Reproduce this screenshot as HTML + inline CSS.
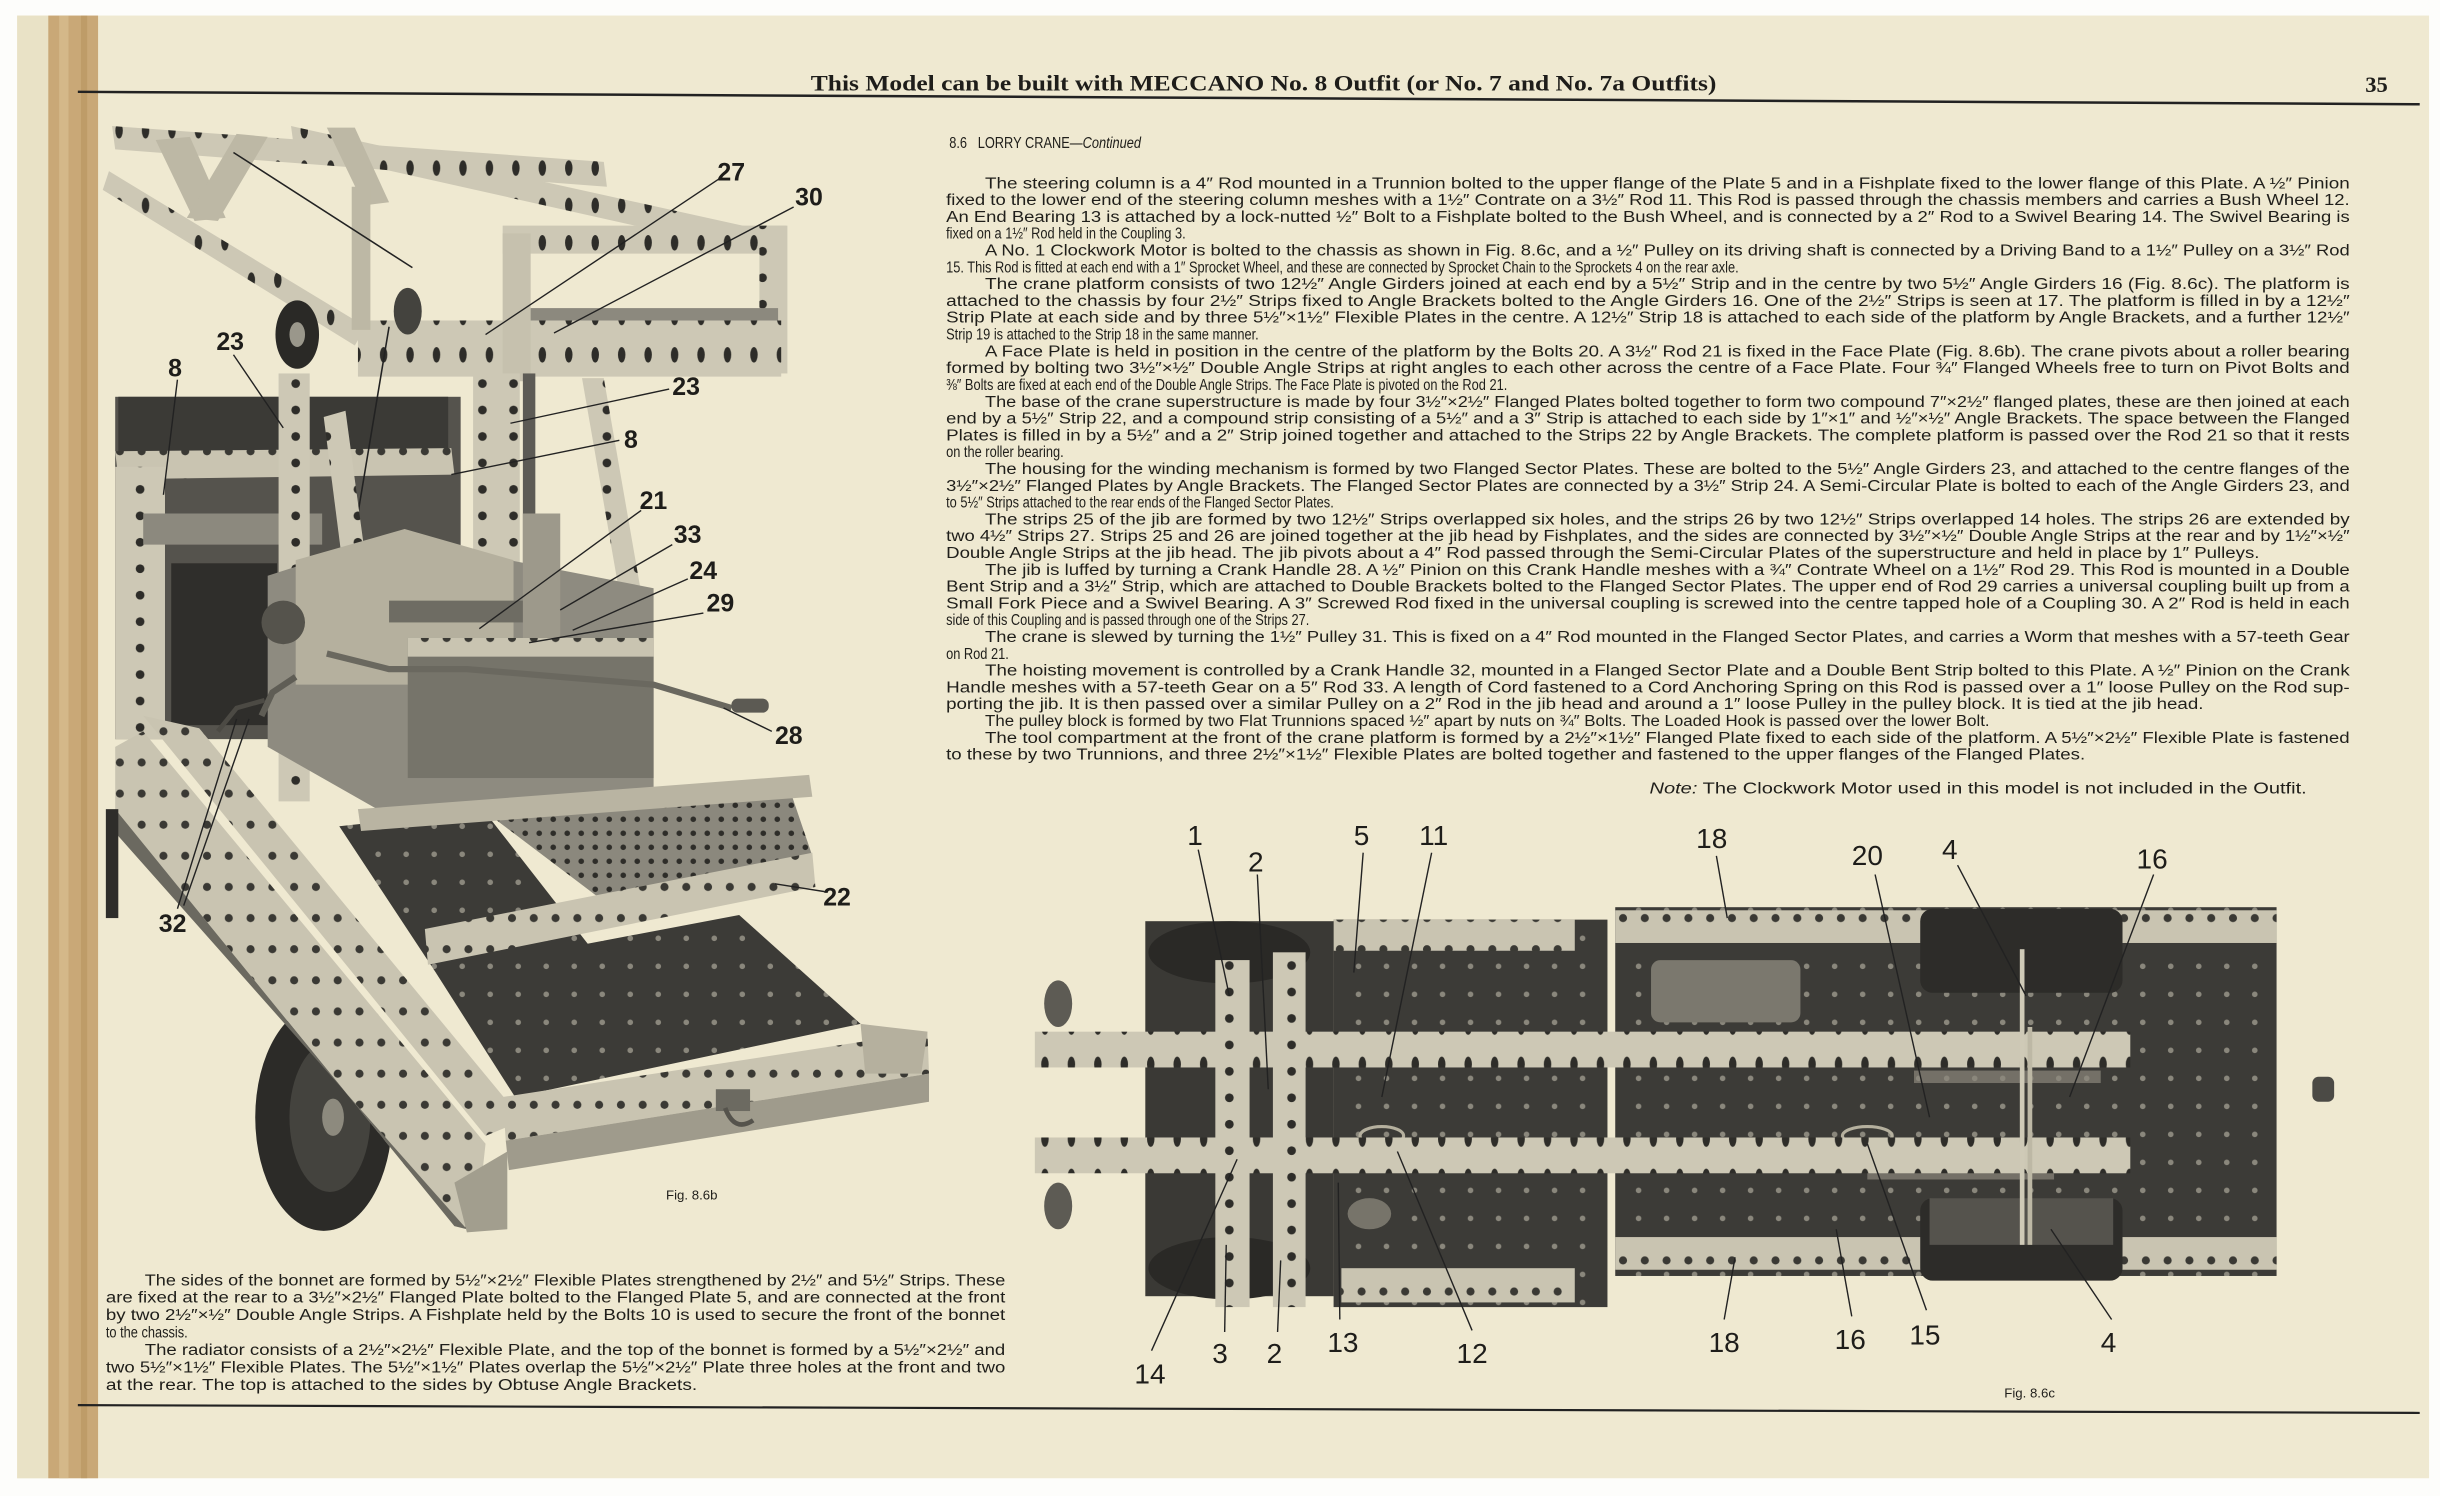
<!DOCTYPE html>
<html><head><meta charset="utf-8"><style>
html,body{margin:0;padding:0;background:#fff;}
svg{display:block}
.p{font-family:"Liberation Sans",sans-serif;font-size:10.3px;fill:#1f1e1a}
.h{font-family:"Liberation Serif",serif;font-weight:bold;font-size:14.5px;fill:#1e1d1a}
.lb{font-family:"Liberation Sans",sans-serif;font-weight:bold;font-size:16px;fill:#1e1d1a}
.ln{font-family:"Liberation Sans",sans-serif;font-size:18px;fill:#1e1d1a}
.ld{stroke:#222;stroke-width:0.9;fill:none}
</style></head><body>
<svg width="2440" height="1496" viewBox="0 0 1568 961.4" xmlns="http://www.w3.org/2000/svg">
<defs>
<pattern id="hh" width="17" height="24" patternUnits="userSpaceOnUse"><rect width="17" height="24" fill="#cdc8b5"/><ellipse cx="8.5" cy="12" rx="2.4" ry="5" fill="#2e2d29"/></pattern>
<pattern id="hs" width="14" height="20" patternUnits="userSpaceOnUse"><rect width="14" height="20" fill="#c9c4b1"/><circle cx="7" cy="10" r="2.6" fill="#3a3934"/></pattern>
<pattern id="vh" width="20" height="17" patternUnits="userSpaceOnUse"><rect width="20" height="17" fill="#cdc8b5"/><circle cx="10" cy="8.5" r="2.8" fill="#2e2d29"/></pattern>
<pattern id="dk" width="18" height="18" patternUnits="userSpaceOnUse"><rect width="18" height="18" fill="#3c3b37"/><circle cx="9" cy="9" r="1.8" fill="#8a877c"/></pattern>
<pattern id="gd" width="9" height="9" patternUnits="userSpaceOnUse"><rect width="9" height="9" fill="#8b887d"/><circle cx="4.5" cy="4.5" r="1.8" fill="#2e2d29"/></pattern>
</defs>
<rect x="0" y="0" width="1568" height="961.4" fill="#fdfdfb"/>
<rect x="11" y="10" width="1550" height="940" fill="#efe9d1"/>
<rect x="11" y="10" width="20" height="940" fill="#e9e2c6"/>
<rect x="31" y="10" width="32" height="940" fill="#c9a877"/>
<rect x="38" y="10" width="6" height="940" fill="#d8bf91" opacity="0.7"/>
<rect x="52" y="10" width="4" height="940" fill="#b8955f" opacity="0.6"/>
<line x1="50" y1="59" x2="1555" y2="67" stroke="#222" stroke-width="1.6"/>
<line x1="50" y1="903" x2="1555" y2="908" stroke="#222" stroke-width="1.4"/>
<text class="h" x="521" y="58" textLength="582" lengthAdjust="spacingAndGlyphs">This Model can be built with MECCANO No. 8 Outfit (or No. 7 and No. 7a Outfits)</text>
<text class="h" x="1520" y="59">35</text>

<g>
<rect x="74" y="255" width="222" height="220" fill="#55534d"/>
<rect x="76" y="255" width="212" height="36" fill="#3b3a36"/>
<polygon points="74,290 290,288 292,305 76,308" fill="url(#hs)"/>
<rect x="110" y="362" width="68" height="104" fill="#2f2e2b"/>
<rect x="74" y="300" width="32" height="175" fill="url(#vh)"/>
<rect x="92" y="330" width="115" height="20" fill="#8c897e"/>
<polygon points="72,81 388,104 390,120 74,96" fill="url(#hh)"/>
<polygon points="187,81 500,150 502,166 189,96" fill="url(#hh)"/>
<polygon points="70,110 235,210 228,222 66,122" fill="url(#hh)"/>
<polygon points="100,90 122,88 145,140 125,142" fill="#bdb8a5"/>
<polygon points="120,140 140,142 172,88 152,86" fill="#bdb8a5"/>
<polygon points="210,82 228,82 250,130 234,132" fill="#bdb8a5"/>
<rect x="323" y="145" width="182" height="18" fill="url(#hh)"/>
<rect x="488" y="145" width="18" height="95" fill="url(#vh)"/>
<rect x="330" y="198" width="170" height="8" fill="#8c897e"/>
<polygon points="230,206 502,206 502,242 230,242" fill="url(#hh)"/>
<rect x="226" y="120" width="12" height="92" fill="#bdb8a5"/>
<rect x="323" y="150" width="18" height="95" fill="#c6c1ae"/>
<line x1="150" y1="98" x2="265" y2="172" stroke="#222" stroke-width="1"/>
<line x1="250" y1="210" x2="230" y2="330" stroke="#222" stroke-width="1"/>
<rect x="304" y="240" width="30" height="128" fill="url(#vh)"/>
<polygon points="374,243 388,243 416,404 402,404" fill="url(#vh)"/>
<rect x="336" y="240" width="8" height="130" fill="#5d5b55"/>
<ellipse cx="191" cy="215" rx="14" ry="22" fill="#2a2926"/>
<ellipse cx="191" cy="215" rx="5" ry="8" fill="#9a978b"/>
<ellipse cx="262" cy="200" rx="9" ry="15" fill="#44433e"/>
<rect x="179" y="240" width="20" height="275" fill="url(#vh)"/>
<polygon points="208,268 222,264 256,515 240,518" fill="url(#vh)"/>
<polygon points="172,370 250,345 420,378 420,515 260,530 172,480" fill="#8e8b80"/>
<polygon points="190,360 260,340 330,360 330,440 190,440" fill="#b5b09e"/>
<rect x="250" y="386" width="90" height="14" fill="#6e6c63"/>
<rect x="262" y="410" width="158" height="90" fill="#76746a"/>
<rect x="262" y="410" width="158" height="12" fill="url(#hs)"/>
<rect x="336" y="330" width="24" height="80" fill="#9d998b"/>
<circle cx="182" cy="400" r="14" fill="#55534c"/>
<polyline points="210,420 250,430 300,430 420,440 470,455" stroke="#6a685f" stroke-width="4" fill="none"/>
<rect x="470" y="449" width="24" height="9" rx="4" fill="#5c5a53"/>
<polyline points="190,435 175,445 168,460" stroke="#5f5d55" stroke-width="4" fill="none"/>
<polygon points="218,531 311,521 389,621 280,625" fill="url(#dk)"/>
<polygon points="311,521 505,500 522,550 389,580" fill="url(#gd)"/>
<polygon points="280,625 475,588 553,658 331,705" fill="url(#dk)"/>
<polygon points="273,597 522,548 524,570 275,620" fill="url(#hs)"/>
<polygon points="230,520 520,498 522,512 232,534" fill="#b9b4a2"/>
<polygon points="323,705 596,663 597,690 325,733" fill="url(#hs)"/>
<polygon points="325,733 597,690 597,708 327,752" fill="#9f9b8c"/>
<polygon points="553,658 596,663 592,690 556,690" fill="#b5b09e"/>
<ellipse cx="208" cy="718" rx="44" ry="73" fill="#2c2b28"/>
<ellipse cx="212" cy="718" rx="26" ry="48" fill="#44433e"/>
<ellipse cx="214" cy="718" rx="7" ry="12" fill="#8d8a7e"/>
<polygon points="92,460 128,468 336,720 312,730" fill="url(#hs)"/>
<polygon points="74,480 92,470 312,735 306,790 292,788 74,520" fill="url(#hs)"/>
<polygon points="74,520 292,788 300,790 74,535" fill="#6b6960"/>
<rect x="68" y="520" width="8" height="70" fill="#2e2d2a"/>
<polygon points="292,760 326,740 326,790 300,792" fill="#a29e8e"/>
<rect x="460" y="700" width="22" height="14" fill="#6c6a61"/>
<path d="M466 712 q6 16 18 8" stroke="#55534c" stroke-width="3" fill="none"/>
<polyline points="140,470 152,455 170,450" stroke="#4c4a44" stroke-width="3" fill="none"/>
</g>
<g>
<line class="ld" x1="462" y1="115" x2="312" y2="215"/>
<line class="ld" x1="510" y1="133" x2="356" y2="214"/>
<line class="ld" x1="150" y1="228" x2="182" y2="275"/>
<line class="ld" x1="114" y1="244" x2="105" y2="318"/>
<line class="ld" x1="430" y1="250" x2="328" y2="272"/>
<line class="ld" x1="398" y1="283" x2="290" y2="305"/>
<line class="ld" x1="412" y1="328" x2="308" y2="404"/>
<line class="ld" x1="432" y1="350" x2="360" y2="392"/>
<line class="ld" x1="442" y1="372" x2="368" y2="405"/>
<line class="ld" x1="452" y1="394" x2="340" y2="413"/>
<line class="ld" x1="496" y1="470" x2="465" y2="455"/>
<line class="ld" x1="530" y1="573" x2="498" y2="568"/>
<line class="ld" x1="118" y1="582" x2="160" y2="462"/>
<line class="ld" x1="114" y1="584" x2="152" y2="462"/>
<text class="lb" x="461" y="116">27</text>
<text class="lb" x="511" y="132">30</text>
<text class="lb" x="139" y="225">23</text>
<text class="lb" x="108" y="242">8</text>
<text class="lb" x="432" y="254">23</text>
<text class="lb" x="401" y="288">8</text>
<text class="lb" x="411" y="327">21</text>
<text class="lb" x="433" y="349">33</text>
<text class="lb" x="443" y="372">24</text>
<text class="lb" x="454" y="393">29</text>
<text class="lb" x="498" y="478">28</text>
<text class="lb" x="529" y="582">22</text>
<text class="lb" x="102" y="599">32</text>
<text class="p" x="428" y="771" style="font-size:8.5px">Fig. 8.6b</text>
</g>

<g>
<rect x="1038" y="583" width="425" height="237" fill="url(#dk)"/>
<rect x="1038" y="585" width="425" height="21" fill="url(#hs)"/>
<rect x="1038" y="795" width="425" height="21" fill="url(#hs)"/>
<rect x="1061" y="617" width="96" height="40" rx="6" fill="#7b786e"/>
<rect x="857" y="591" width="176" height="249" fill="url(#dk)"/>
<rect x="857" y="591" width="155" height="20" fill="url(#hs)"/>
<rect x="862" y="815" width="150" height="22" fill="url(#hs)"/>
<rect x="736" y="592" width="121" height="241" fill="#3a3935"/>
<ellipse cx="790" cy="612" rx="52" ry="20" fill="#2a2926"/>
<ellipse cx="790" cy="815" rx="52" ry="20" fill="#2a2926"/>
<rect x="1234" y="584" width="130" height="54" rx="8" fill="#2d2c29"/>
<rect x="1234" y="770" width="130" height="53" rx="8" fill="#2d2c29"/>
<rect x="1240" y="770" width="118" height="30" fill="#55534d"/>
<rect x="1230" y="688" width="120" height="8" fill="#8b887c" opacity="0.7"/>
<rect x="1200" y="750" width="120" height="8" fill="#8b887c" opacity="0.7"/>
<ellipse cx="1200" cy="730" rx="16" ry="6" fill="none" stroke="#b5b09e" stroke-width="2"/>
<ellipse cx="888" cy="730" rx="14" ry="6" fill="none" stroke="#b5b09e" stroke-width="2"/>
<ellipse cx="880" cy="780" rx="14" ry="10" fill="#77746a"/>
<rect x="665" y="663" width="704" height="23" fill="url(#hh)"/>
<rect x="665" y="731" width="704" height="23" fill="url(#hh)"/>
<rect x="781" y="617" width="22" height="223" fill="url(#vh)"/>
<rect x="818" y="612" width="21" height="228" fill="url(#vh)"/>
<ellipse cx="680" cy="645" rx="9" ry="15" fill="#5d5b54"/>
<ellipse cx="680" cy="775" rx="9" ry="15" fill="#5d5b54"/>
<rect x="1486" y="692" width="14" height="16" rx="4" fill="#4b4a45"/>
<rect x="1298" y="610" width="3" height="190" fill="#cfcab7"/>
<rect x="1303" y="660" width="3" height="140" fill="#bdb8a5"/>
</g>
<g>
<line class="ld" x1="770" y1="546" x2="790" y2="640"/>
<line class="ld" x1="808" y1="562" x2="815" y2="700"/>
<line class="ld" x1="876" y1="548" x2="870" y2="625"/>
<line class="ld" x1="920" y1="548" x2="888" y2="705"/>
<line class="ld" x1="1103" y1="550" x2="1110" y2="590"/>
<line class="ld" x1="1205" y1="562" x2="1240" y2="718"/>
<line class="ld" x1="1258" y1="556" x2="1302" y2="640"/>
<line class="ld" x1="1384" y1="562" x2="1330" y2="705"/>
<line class="ld" x1="740" y1="868" x2="795" y2="745"/>
<line class="ld" x1="787" y1="856" x2="788" y2="800"/>
<line class="ld" x1="821" y1="856" x2="823" y2="810"/>
<line class="ld" x1="861" y1="848" x2="860" y2="760"/>
<line class="ld" x1="946" y1="855" x2="898" y2="740"/>
<line class="ld" x1="1108" y1="848" x2="1115" y2="808"/>
<line class="ld" x1="1190" y1="846" x2="1180" y2="790"/>
<line class="ld" x1="1238" y1="842" x2="1200" y2="735"/>
<line class="ld" x1="1357" y1="848" x2="1318" y2="790"/>
<text class="ln" x="763" y="543">1</text>
<text class="ln" x="802" y="560">2</text>
<text class="ln" x="870" y="543">5</text>
<text class="ln" x="912" y="543">11</text>
<text class="ln" x="1090" y="545">18</text>
<text class="ln" x="1190" y="556">20</text>
<text class="ln" x="1248" y="552">4</text>
<text class="ln" x="1373" y="558">16</text>
<text class="ln" x="729" y="889">14</text>
<text class="ln" x="779" y="876">3</text>
<text class="ln" x="814" y="876">2</text>
<text class="ln" x="853" y="869">13</text>
<text class="ln" x="936" y="876">12</text>
<text class="ln" x="1098" y="869">18</text>
<text class="ln" x="1179" y="867">16</text>
<text class="ln" x="1227" y="864">15</text>
<text class="ln" x="1350" y="869">4</text>
<text class="p" x="1288" y="898" style="font-size:8.5px">Fig. 8.6c</text>
</g>

<!-- MAIN TEXT (scaled horizontally 0.8) -->
<g class="p" transform="scale(0.8,1)">
<text x="762.5" y="95">8.6&#160;&#160;&#160;LORRY CRANE—<tspan font-style="italic">Continued</tspan></text>
<text x="791.25" y="121" textLength="1096.25" lengthAdjust="spacingAndGlyphs">The steering column is a 4″ Rod mounted in a Trunnion bolted to the upper flange of the Plate 5 and in a Fishplate fixed to the lower flange of this Plate.   A ½″ Pinion</text>
<text x="760" y="131.8" textLength="1127.5" lengthAdjust="spacingAndGlyphs">fixed to the lower end of the steering column meshes with a 1½″ Contrate on a 3½″ Rod 11.   This Rod is passed through the chassis members and carries a Bush Wheel 12.</text>
<text x="760" y="142.6" textLength="1127.5" lengthAdjust="spacingAndGlyphs">An End Bearing 13 is attached by a lock-nutted ½″ Bolt to a Fishplate bolted to the Bush Wheel, and is connected by a 2″ Rod to a Swivel Bearing 14.   The Swivel Bearing is</text>
<text x="760" y="153.4">fixed on a 1½″ Rod held in the Coupling 3.</text>
<text x="791.25" y="164.2" textLength="1096.25" lengthAdjust="spacingAndGlyphs">A No. 1 Clockwork Motor is bolted to the chassis as shown in Fig. 8.6c, and a ½″ Pulley on its driving shaft is connected by a Driving Band to a 1½″ Pulley on a 3½″ Rod</text>
<text x="760" y="175">15.   This Rod is fitted at each end with a 1″ Sprocket Wheel, and these are connected by Sprocket Chain to the Sprockets 4 on the rear axle.</text>
<text x="791.25" y="185.8" textLength="1096.25" lengthAdjust="spacingAndGlyphs">The crane platform consists of two 12½″ Angle Girders joined at each end by a 5½″ Strip and in the centre by two 5½″ Angle Girders 16 (Fig. 8.6c).   The platform is</text>
<text x="760" y="196.6" textLength="1127.5" lengthAdjust="spacingAndGlyphs">attached to the chassis by four 2½″ Strips fixed to Angle Brackets bolted to the Angle Girders 16.   One of the 2½″ Strips is seen at 17.   The platform is filled in by a 12½″</text>
<text x="760" y="207.4" textLength="1127.5" lengthAdjust="spacingAndGlyphs">Strip Plate at each side and by three 5½″×1½″ Flexible Plates in the centre.   A 12½″ Strip 18 is attached to each side of the platform by Angle Brackets, and a further 12½″</text>
<text x="760" y="218.2">Strip 19 is attached to the Strip 18 in the same manner.</text>
<text x="791.25" y="229" textLength="1096.25" lengthAdjust="spacingAndGlyphs">A Face Plate is held in position in the centre of the platform by the Bolts 20. A 3½″ Rod 21 is fixed in the Face Plate (Fig. 8.6b). The crane pivots about a roller bearing</text>
<text x="760" y="239.8" textLength="1127.5" lengthAdjust="spacingAndGlyphs">formed by bolting two 3½″×½″ Double Angle Strips at right angles to each other across the centre of a Face Plate.   Four ¾″ Flanged Wheels free to turn on Pivot Bolts and</text>
<text x="760" y="250.6">⅜″ Bolts are fixed at each end of the Double Angle Strips.   The Face Plate is pivoted on the Rod 21.</text>
<text x="791.25" y="261.4" textLength="1096.25" lengthAdjust="spacingAndGlyphs">The base of the crane superstructure is made by four 3½″×2½″ Flanged Plates bolted together to form two compound 7″×2½″ flanged plates, these are then joined at each</text>
<text x="760" y="272.2" textLength="1127.5" lengthAdjust="spacingAndGlyphs">end by a 5½″ Strip 22, and a compound strip consisting of a 5½″ and a 3″ Strip is attached to each side by 1″×1″ and ½″×½″ Angle Brackets.   The space between the Flanged</text>
<text x="760" y="283" textLength="1127.5" lengthAdjust="spacingAndGlyphs">Plates is filled in by a 5½″ and a 2″ Strip joined together and attached to the Strips 22 by Angle Brackets.   The complete platform is passed over the Rod 21 so that it rests</text>
<text x="760" y="293.8">on the roller bearing.</text>
<text x="791.25" y="304.6" textLength="1096.25" lengthAdjust="spacingAndGlyphs">The housing for the winding mechanism is formed by two Flanged Sector Plates.   These are bolted to the 5½″ Angle Girders 23, and attached to the centre flanges of the</text>
<text x="760" y="315.4" textLength="1127.5" lengthAdjust="spacingAndGlyphs">3½″×2½″ Flanged Plates by Angle Brackets.   The Flanged Sector Plates are connected by a 3½″ Strip 24.   A Semi-Circular Plate is bolted to each of the Angle Girders 23, and</text>
<text x="760" y="326.2">to 5½″ Strips attached to the rear ends of the Flanged Sector Plates.</text>
<text x="791.25" y="337" textLength="1096.25" lengthAdjust="spacingAndGlyphs">The strips 25 of the jib are formed by two 12½″ Strips overlapped six holes, and the strips 26 by two 12½″ Strips overlapped 14 holes.   The strips 26 are extended by</text>
<text x="760" y="347.8" textLength="1127.5" lengthAdjust="spacingAndGlyphs">two 4½″ Strips 27.   Strips 25 and 26 are joined together at the jib head by Fishplates, and the sides are connected by 3½″×½″ Double Angle Strips at the rear and by 1½″×½″</text>
<text x="760" y="358.6" textLength="1055" lengthAdjust="spacingAndGlyphs">Double Angle Strips at the jib head.   The jib pivots about a 4″ Rod passed through the Semi-Circular Plates of the superstructure and held in place by 1″ Pulleys.</text>
<text x="791.25" y="369.4" textLength="1096.25" lengthAdjust="spacingAndGlyphs">The jib is luffed by turning a Crank Handle 28.   A ½″ Pinion on this Crank Handle meshes with a ¾″ Contrate Wheel on a 1½″ Rod 29.   This Rod is mounted in a Double</text>
<text x="760" y="380.2" textLength="1127.5" lengthAdjust="spacingAndGlyphs">Bent Strip and a 3½″ Strip, which are attached to Double Brackets bolted to the Flanged Sector Plates.   The upper end of Rod 29 carries a universal coupling built up from a</text>
<text x="760" y="391" textLength="1127.5" lengthAdjust="spacingAndGlyphs">Small Fork Piece and a Swivel Bearing.   A 3″ Screwed Rod fixed in the universal coupling is screwed into the centre tapped hole of a Coupling 30.   A 2″ Rod is held in each</text>
<text x="760" y="401.8">side of this Coupling and is passed through one of the Strips 27.</text>
<text x="791.25" y="412.6" textLength="1096.25" lengthAdjust="spacingAndGlyphs">The crane is slewed by turning the 1½″ Pulley 31.   This is fixed on a 4″ Rod mounted in the Flanged Sector Plates, and carries a Worm that meshes with a 57-teeth Gear</text>
<text x="760" y="423.4">on Rod 21.</text>
<text x="791.25" y="434.2" textLength="1096.25" lengthAdjust="spacingAndGlyphs">The hoisting movement is controlled by a Crank Handle 32, mounted in a Flanged Sector Plate and a Double Bent Strip bolted to this Plate.   A ½″ Pinion on the Crank</text>
<text x="760" y="445" textLength="1127.5" lengthAdjust="spacingAndGlyphs">Handle meshes with a 57-teeth Gear on a 5″ Rod 33.   A length of Cord fastened to a Cord Anchoring Spring on this Rod is passed over a 1″ loose Pulley on the Rod sup-</text>
<text x="760" y="455.8" textLength="1010" lengthAdjust="spacingAndGlyphs">porting the jib.   It is then passed over a similar Pulley on a 2″ Rod in the jib head and around a 1″ loose Pulley in the pulley block.   It is tied at the jib head.</text>
<text x="791.25" y="466.6" textLength="807" lengthAdjust="spacingAndGlyphs">The pulley block is formed by two Flat Trunnions spaced ½″ apart by nuts on ¾″ Bolts.   The Loaded Hook is passed over the lower Bolt.</text>
<text x="791.25" y="477.4" textLength="1096.25" lengthAdjust="spacingAndGlyphs">The tool compartment at the front of the crane platform is formed by a 2½″×1½″ Flanged Plate fixed to each side of the platform.   A 5½″×2½″ Flexible Plate is fastened</text>
<text x="760" y="488.2" textLength="915" lengthAdjust="spacingAndGlyphs">to these by two Trunnions, and three 2½″×1½″ Flexible Plates are bolted together and fastened to the upper flanges of the Flanged Plates.</text>
<text x="1325" y="510" textLength="528" lengthAdjust="spacingAndGlyphs"><tspan font-style="italic">Note:</tspan>   The Clockwork Motor used in this model is not included in the Outfit.</text>
</g>
<g class="p" transform="scale(0.8,1)">
<text x="116.25" y="826" textLength="691.25" lengthAdjust="spacingAndGlyphs">The sides of the bonnet are formed by 5½″×2½″ Flexible Plates strengthened by 2½″ and 5½″ Strips.   These</text>
<text x="85" y="837.2" textLength="722.5" lengthAdjust="spacingAndGlyphs">are fixed at the rear to a 3½″×2½″ Flanged Plate bolted to the Flanged Plate 5, and are connected at the front</text>
<text x="85" y="848.4" textLength="722.5" lengthAdjust="spacingAndGlyphs">by two 2½″×½″ Double Angle Strips.   A Fishplate held by the Bolts 10 is used to secure the front of the bonnet</text>
<text x="85" y="859.6">to the chassis.</text>
<text x="116.25" y="870.8" textLength="691.25" lengthAdjust="spacingAndGlyphs">The radiator consists of a 2½″×2½″ Flexible Plate, and the top of the bonnet is formed by a 5½″×2½″ and</text>
<text x="85" y="882" textLength="722.5" lengthAdjust="spacingAndGlyphs">two 5½″×1½″ Flexible Plates.   The 5½″×1½″ Plates overlap the 5½″×2½″ Plate three holes at the front and two</text>
<text x="85" y="893.2" textLength="475" lengthAdjust="spacingAndGlyphs">at the rear.   The top is attached to the sides by Obtuse Angle Brackets.</text>
</g>
</svg>
</body></html>
